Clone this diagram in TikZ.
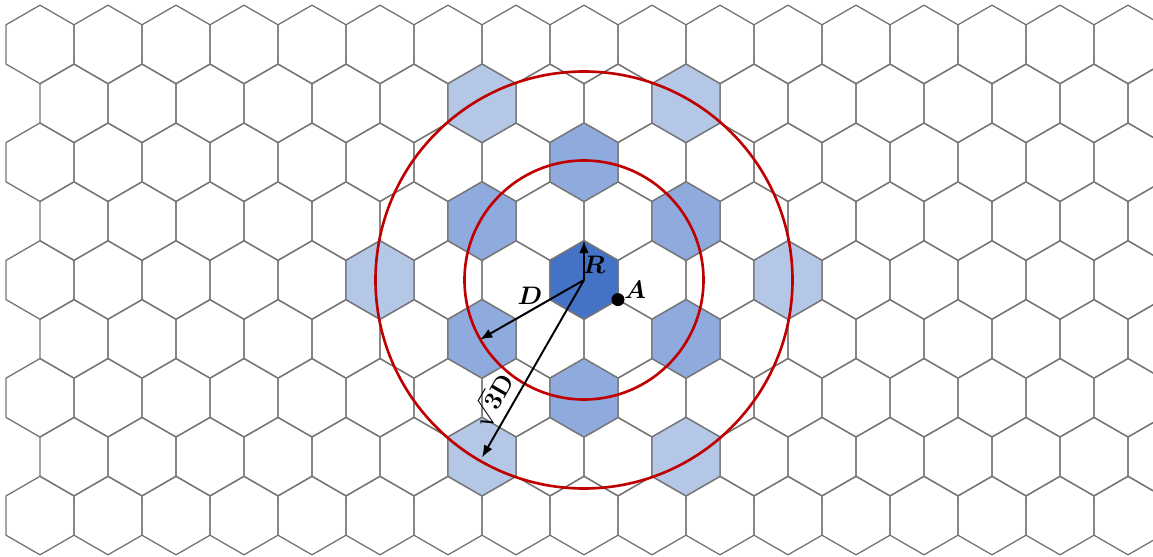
\documentclass[tikz,border=0pt]{standalone}
\usepackage{amsmath,amssymb}
\usepackage{tikz}
\usetikzlibrary{arrows.meta,positioning,calc}

\definecolor{gridgray}{RGB}{118,118,118}
\definecolor{cellcore}{HTML}{4472C4}
\definecolor{cellnear}{HTML}{8FAADC}
\definecolor{cellfar}{HTML}{B4C7E7}
\definecolor{ringred}{HTML}{C00000}

% one pointy-top hexagon around the current point
\def\cellr{39.26}
\newcommand{\hexpath}{+(30:\cellr) -- +(90:\cellr) -- +(150:\cellr) -- +(210:\cellr) -- +(270:\cellr) -- +(330:\cellr) -- cycle}

\begin{document}
\begin{tikzpicture}[
    x=0.02cm, y=-0.02cm,
    cell/.style={draw=gridgray, line width=0.75pt, line join=round},
    ring/.style={draw=ringred, line width=1.5pt},
    arr/.style={-{Latex[length=7pt,width=5.5pt]}, line width=1.1pt},
    dot/.style={circle, fill=black, inner sep=0pt, minimum size=0.26cm},
    lbl/.style={font=\fontsize{15.5}{18}\selectfont, inner sep=1pt}
]
\useasboundingbox (0,0) rectangle (1153,557);
\clip (0,0) rectangle (1153,557);

% hexagonal grid
\foreach \r in {-4,...,4} {
  \pgfmathsetmacro{\off}{mod(abs(\r),2)*34}
  \foreach \k in {-8,...,8} {
    \draw[cell] ({584+\off+68*\k},{280+58.89*\r}) \hexpath;
  }
}

% co-channel cells
\foreach \cx/\cy in {482/103.33, 686/103.33, 380/280, 788/280, 482/456.67, 686/456.67}
  \draw[cell, fill=cellfar] (\cx,\cy) \hexpath;
\foreach \cx/\cy in {584/162.22, 482/221.11, 686/221.11, 482/338.89, 686/338.89, 584/397.78}
  \draw[cell, fill=cellnear] (\cx,\cy) \hexpath;
\draw[cell, fill=cellcore] (584,280) \hexpath;

\coordinate (O) at (584,280);
\coordinate (Rtop) at (584,240.74);
\coordinate (Dcell) at (480,339.5);
\coordinate (Tcell) at (482,457.5);

% interference rings
\draw[ring] (O) circle (119.5);
\draw[ring] (O) circle (208.5);

\draw[arr] (O) -- (Rtop);
\draw[arr] (O) -- (Dcell);
\draw[arr] (O) -- (Tcell);

\node[dot] (A) at (618,299.63) {};
\node[lbl] (labA) at (635,290) {$\boldsymbol{A}$};
\node[lbl] (labR) at (594,265) {$\boldsymbol{R}$};
\node[lbl] (labD) at (530,296) {$\boldsymbol{D}$};
\node[lbl, rotate=60] (labT) at (492,400) {$\sqrt{\mathbf{3}}\mathbf{D}$};
\end{tikzpicture}
\end{document}
